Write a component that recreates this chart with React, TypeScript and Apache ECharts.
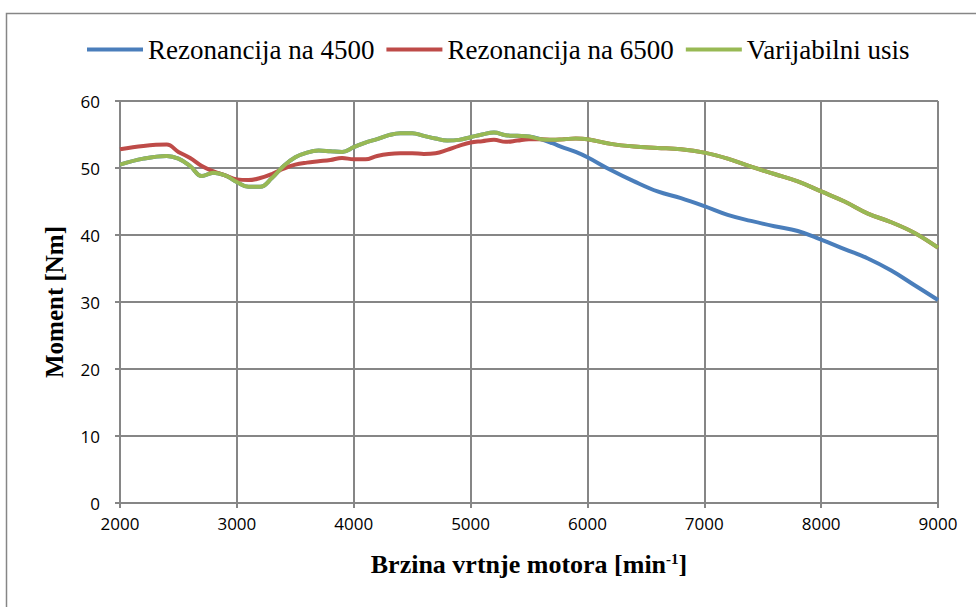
import React, { useEffect, useRef } from "react";
import * as echarts from "echarts";

const rpm = [
  2000, 2200, 2400, 2500, 2600, 2700, 2800, 2900, 3000, 3100, 3200, 3300, 3400, 3500, 3600, 3700, 3800,
  3900, 4000, 4100, 4200, 4300, 4400, 4500, 4600, 4700, 4800, 4900, 5000, 5100, 5200, 5300, 5400, 5500,
  5600, 5700, 5800, 5900, 6000, 6200, 6400, 6600, 6800, 7000, 7200, 7400, 7600, 7800, 8000, 8200, 8400,
  8600, 8800, 9000,
];

const rez4500 = [
  50.5, 51.4, 51.8, 51.4, 50.3, 48.8, 49.3, 48.9, 47.9, 47.2, 47.2, 48.5, 50.3, 51.6, 52.3, 52.6, 52.5,
  52.4, 53.1, 53.8, 54.3, 54.9, 55.2, 55.2, 54.8, 54.4, 54.1, 54.2, 54.6, 55.0, 55.3, 54.9, 54.8, 54.7,
  54.3, 53.7, 53.0, 52.4, 51.6, 49.7, 48.0, 46.5, 45.5, 44.3, 43.0, 42.1, 41.3, 40.6, 39.3, 37.9, 36.5,
  34.7, 32.5, 30.3,
];

const rez6500 = [
  52.8, 53.3, 53.5, 52.4, 51.5, 50.3, 49.5, 48.9, 48.3, 48.2, 48.5, 49.1, 49.9, 50.5, 50.8, 51.0, 51.2,
  51.5, 51.3, 51.3, 51.8, 52.1, 52.2, 52.2, 52.1, 52.2, 52.7, 53.3, 53.8, 54.0, 54.2, 53.9, 54.1, 54.3,
  54.3, 54.2, 54.3, 54.4, 54.3, 53.6, 53.2, 53.0, 52.8, 52.3, 51.4, 50.2, 49.1, 48.0, 46.5, 45.0, 43.2,
  41.9, 40.3, 38.1,
];

const varijabilni = [
  50.5, 51.4, 51.8, 51.4, 50.3, 48.8, 49.3, 48.9, 47.9, 47.2, 47.2, 48.5, 50.3, 51.6, 52.3, 52.6, 52.5,
  52.4, 53.1, 53.8, 54.3, 54.9, 55.2, 55.2, 54.8, 54.4, 54.1, 54.2, 54.6, 55.0, 55.3, 54.9, 54.8, 54.7,
  54.3, 54.2, 54.3, 54.4, 54.3, 53.6, 53.2, 53.0, 52.8, 52.3, 51.4, 50.2, 49.1, 48.0, 46.5, 45.0, 43.2,
  41.9, 40.3, 38.1,
];

const seriesNames = ["Rezonancija na 4500", "Rezonancija na 6500", "Varijabilni usis"];
const seriesColors = ["#4A7EBB", "#BE4B48", "#98B954"];
const seriesValues = [rez4500, rez6500, varijabilni];

const xTitle = "Brzina vrtnje motora [min";
const xTitleSup = "-1";
const yTitle = "Moment [Nm]";

export default function App() {
  const ref = useRef<HTMLDivElement>(null);
  useEffect(() => {
    if (!ref.current) return;
    const chart = echarts.init(ref.current, null, { renderer: "svg" });
    const gridColor = "#868686";
    const serif = "'Liberation Serif', 'Times New Roman', serif";
    const sans = "'Open Sans', 'DejaVu Sans', sans-serif";
    chart.setOption({
      animation: false,
      backgroundColor: "#ffffff",
      graphic: [
        {
          type: "rect",
          left: 4,
          top: 11,
          shape: { width: 1000, height: 620 },
          style: { fill: "none", stroke: gridColor, lineWidth: 1.5 },
          silent: true,
          z: -10,
        },
      ],
      legend: {
        left: 82,
        top: 31,
        icon: "rect",
        itemWidth: 56,
        itemHeight: 4,
        itemGap: 12,
        textStyle: { fontFamily: serif, fontSize: 27, color: "#000" },
        data: seriesNames,
      },
      grid: { left: 120, top: 101, width: 818, height: 402, containLabel: false },
      xAxis: {
        type: "value",
        min: 2000,
        max: 9000,
        interval: 1000,
        name: `{a|${xTitle}}{s|${xTitleSup}}{a|]}`,
        nameLocation: "middle",
        nameGap: 48,
        nameTextStyle: {
          rich: {
            a: { fontFamily: serif, fontSize: 26, fontWeight: "bold", color: "#000" },
            s: { fontFamily: serif, fontSize: 15, fontWeight: "bold", color: "#000", verticalAlign: "top", padding: [0, 0, 12, 0] },
          },
        },
        axisLine: { show: true, lineStyle: { color: gridColor, width: 2 } },
        axisTick: { show: true, inside: false, length: 5, lineStyle: { color: gridColor, width: 2 } },
        axisLabel: {
          color: "#000",
          fontFamily: sans,
          fontSize: 17,
          margin: 12,
          formatter: (v: number) => String(v),
        },
        splitLine: { show: true, lineStyle: { color: gridColor, width: 2 } },
      },
      yAxis: {
        type: "value",
        min: 0,
        max: 60,
        interval: 10,
        name: yTitle,
        nameLocation: "middle",
        nameGap: 53,
        nameTextStyle: { fontFamily: serif, fontSize: 25, fontWeight: "bold", color: "#000" },
        axisLine: { show: true, lineStyle: { color: gridColor, width: 2 } },
        axisTick: { show: true, inside: false, length: 5, lineStyle: { color: gridColor, width: 2 } },
        axisLabel: { color: "#000", fontFamily: sans, fontSize: 17, margin: 20 },
        splitLine: { show: true, lineStyle: { color: gridColor, width: 2 } },
      },
      series: seriesNames.map((name, i) => ({
        name,
        type: "line",
        smooth: 0.4,
        symbol: "none",
        color: seriesColors[i],
        lineStyle: { color: seriesColors[i], width: 4 },
        data: rpm.map((x, j) => [x, seriesValues[i][j]]),
        z: 2 + i,
      })),
    });
    return () => chart.dispose();
  }, []);
  return (
    <div
      ref={ref}
      style={{ position: "fixed", left: 0, top: 0, width: 976, height: 607, background: "#fff" }}
    />
  );
}
